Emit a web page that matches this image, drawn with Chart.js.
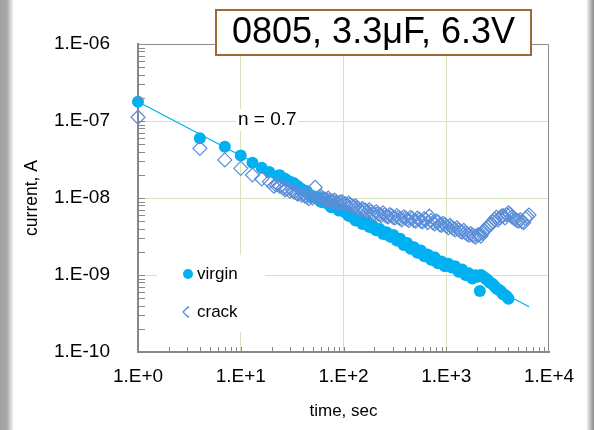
<!DOCTYPE html>
<html>
<head>
<meta charset="utf-8">
<title>0805, 3.3μF, 6.3V</title>
<script src="https://cdn.jsdelivr.net/npm/chart.js@4/dist/chart.umd.min.js"></script>
<style>
  html, body { margin: 0; padding: 0; }
  body {
    width: 594px; height: 430px; overflow: hidden;
    background: linear-gradient(to right, #9f9f9f 0px, #a8a8a8 7px, #ffffff 14px, #ffffff 586px, #e2e2e2 588px, #8a8a8a 594px);
  }
  #chart { position: absolute; left: 0; top: 0; }
</style>
</head>
<body>
<canvas id="chart" width="594" height="430"></canvas>
<script>
// axis ticks
const xTicks = [1, 10, 100, 1000, 10000];
const xTickLabels = ['1.E+0', '1.E+1', '1.E+2', '1.E+3', '1.E+4'];
const yTicks = [1e-10, 1e-9, 1e-8, 1e-7, 1e-6];
const yTickLabels = ['1.E-10', '1.E-09', '1.E-08', '1.E-07', '1.E-06'];

// virgin sample: time (s) and current (A)
const virginTime = [1, 4, 7, 10, 13, 16, 19, 23, 25, 27, 29, 31, 34, 36, 39, 42, 46,
  50, 54, 58, 63, 68, 73, 79, 86, 93, 100, 108, 117, 126, 136, 147, 159, 172, 186, 200,
  216, 234, 252, 272, 294, 318, 343, 370, 400, 432, 467, 504, 544, 588, 635, 686, 740,
  800, 864, 933, 1008, 1088, 1175, 1270, 1371, 1480, 1600, 1727, 1865, 2015, 2123, 2176,
  2350, 2538, 2741, 2960, 3197, 3453, 3730, 4030,
  24, 28, 33, 38, 44, 48, 56, 61, 70, 76, 83, 90, 104, 112, 122, 131, 141, 153, 165,
  179, 193, 208, 225, 243, 262, 283, 306, 330, 356, 385, 416, 450, 485, 524, 566, 611,
  660, 713, 770, 832, 898, 970, 1048, 1130, 1220, 1320, 1425, 1540, 1660, 1795, 1940,
  2260, 2440, 2640, 2850, 3080, 3320, 3590, 3880];
const virginCurrent = [1.78e-7, 5.96e-8, 4.64e-8, 3.56e-8, 2.87e-8, 2.47e-8, 2.18e-8,
  1.95e-8, 1.85e-8, 1.78e-8, 1.66e-8, 1.60e-8, 1.47e-8, 1.42e-8, 1.31e-8, 1.24e-8, 1.12e-8,
  1.06e-8, 9.9e-9, 9.5e-9, 9.0e-9, 8.6e-9, 8.1e-9, 7.8e-9, 7.4e-9, 7.1e-9, 6.7e-9,
  6.3e-9, 5.8e-9, 5.5e-9, 5.25e-9, 4.9e-9, 4.7e-9, 4.5e-9, 4.25e-9, 4.0e-9, 3.9e-9,
  3.65e-9, 3.5e-9, 3.35e-9, 3.2e-9, 3.0e-9, 2.85e-9, 2.65e-9, 2.5e-9, 2.4e-9, 2.25e-9,
  2.1e-9, 2.0e-9, 1.9e-9, 1.8e-9, 1.7e-9, 1.65e-9, 1.5e-9, 1.45e-9, 1.38e-9, 1.35e-9,
  1.32e-9, 1.26e-9, 1.2e-9, 1.15e-9, 1.08e-9, 1.02e-9, 9.7e-10, 9.4e-10, 9.5e-10, 6.2e-10,
  1.0e-9, 9.3e-10, 8.6e-10, 7.8e-10, 7.1e-10, 6.5e-10, 6.0e-10, 5.5e-10, 4.9e-10,
  1.98e-8, 1.66e-8, 1.55e-8, 1.28e-8, 1.22e-8, 1.04e-8, 1.02e-8, 8.9e-9, 8.9e-9, 7.6e-9,
  7.9e-9, 6.9e-9, 6.9e-9, 5.9e-9, 5.9e-9, 5.1e-9, 5.4e-9, 4.6e-9, 4.85e-9, 4.2e-9,
  4.35e-9, 3.8e-9, 3.95e-9, 3.4e-9, 3.6e-9, 3.15e-9, 3.3e-9, 2.8e-9, 2.95e-9, 2.45e-9,
  2.6e-9, 2.2e-9, 2.3e-9, 1.95e-9, 2.08e-9, 1.75e-9, 1.85e-9, 1.58e-9, 1.7e-9, 1.42e-9,
  1.5e-9, 1.3e-9, 1.4e-9, 1.25e-9, 1.3e-9, 1.1e-9, 1.18e-9, 1.0e-9, 1.05e-9, 9.0e-10,
  9.9e-10, 9.6e-10, 8.9e-10, 8.0e-10, 7.6e-10, 6.7e-10, 6.3e-10, 5.6e-10, 5.3e-10];

// cracked sample
const crackTime = [1, 4, 7, 10, 13, 16, 19, 22, 24, 26, 28, 30, 33, 36, 39, 42, 46, 50,
  53, 58, 63, 68, 73, 79, 85, 92, 100, 108, 116, 126, 136, 147, 158, 171, 185, 200, 216,
  233, 252, 272, 294, 317, 343, 370, 400, 432, 466, 504, 544, 587, 634, 685, 740, 799,
  863, 932, 1007, 1087, 1174, 1268, 1370, 1479, 1598, 1725, 1863, 2012, 2173, 2347, 2535,
  2738, 2957, 3193, 3449, 3725, 4023, 4345, 4692, 5068, 5473, 5911, 6384,
  21, 23, 27, 32, 35, 41, 44, 48, 55, 60, 66, 71, 76, 82, 88, 96, 104, 112, 121, 131,
  141, 152, 164, 178, 192, 208, 224, 242, 262, 283, 305, 330, 356, 385, 416, 449, 485,
  524, 565, 610, 659, 712, 770, 831, 897, 969, 1046, 1130, 1220, 1318, 1424, 1538, 1660,
  1793, 1936, 2090, 2260, 2440, 2635, 2845, 3070, 3320, 3585, 3870, 4180, 4510, 4870,
  5260, 5680, 6130];
const crackCurrent = [1.12e-7, 4.42e-8, 3.12e-8, 2.43e-8, 1.99e-8, 1.77e-8, 1.63e-8,
  1.48e-8, 1.41e-8, 1.35e-8, 1.31e-8, 1.23e-8, 1.19e-8, 1.12e-8, 1.09e-8, 1.06e-8, 9.8e-9,
  1.0e-8, 1.38e-8, 1.03e-8, 9.8e-9, 9.55e-9, 9.3e-9, 9.1e-9, 8.7e-9, 8.8e-9, 8.6e-9,
  8.1e-9, 8.2e-9, 7.7e-9, 7.5e-9, 6.9e-9, 7.0e-9, 6.6e-9, 6.7e-9, 6.2e-9, 6.3e-9,
  5.9e-9, 6.1e-9, 5.7e-9, 5.9e-9, 5.5e-9, 5.6e-9, 5.2e-9, 5.5e-9, 5.1e-9, 5.4e-9,
  5.0e-9, 5.3e-9, 4.9e-9, 5.2e-9, 5.8e-9, 4.8e-9, 5.0e-9, 4.5e-9, 4.7e-9, 4.3e-9,
  4.4e-9, 4.0e-9, 4.1e-9, 3.7e-9, 3.8e-9, 3.4e-9, 3.45e-9, 3.2e-9, 3.3e-9, 3.2e-9,
  3.8e-9, 4.2e-9, 4.6e-9, 5.3e-9, 5.2e-9, 5.8e-9, 5.5e-9, 6.4e-9, 5.7e-9, 5.3e-9,
  5.0e-9, 4.9e-9, 5.4e-9, 6.0e-9,
  1.42e-8, 1.52e-8, 1.27e-8, 1.25e-8, 1.15e-8, 1.12e-8, 1.03e-8, 1.05e-8, 9.9e-9, 1.06e-8,
  9.7e-9, 1.0e-8, 9.0e-9, 9.4e-9, 8.6e-9, 9.0e-9, 8.4e-9, 8.6e-9, 7.9e-9, 7.9e-9,
  7.2e-9, 7.3e-9, 6.9e-9, 7.0e-9, 6.3e-9, 6.6e-9, 6.1e-9, 6.4e-9, 5.8e-9, 6.1e-9,
  5.6e-9, 5.9e-9, 5.4e-9, 5.7e-9, 5.3e-9, 5.6e-9, 5.1e-9, 5.5e-9, 5.0e-9, 5.4e-9,
  4.8e-9, 5.1e-9, 4.6e-9, 4.9e-9, 4.4e-9, 4.5e-9, 4.1e-9, 4.2e-9, 3.85e-9, 3.9e-9,
  3.6e-9, 3.55e-9, 3.3e-9, 3.3e-9, 3.1e-9, 3.35e-9, 3.5e-9, 4.0e-9, 4.5e-9, 4.9e-9,
  5.6e-9, 5.5e-9, 5.9e-9, 6.1e-9, 6.2e-9, 5.5e-9, 5.1e-9, 5.2e-9, 4.8e-9, 5.7e-9];

// power law fit, n = 0.7 (end points)
const fitTime = [1, 6400];
const fitCurrent = [1.78e-7, 3.87e-10];

const FONT = "'Liberation Sans', Arial, sans-serif";
const gridColor = '#d6e3bc';
const axisColor = '#878787';
const virginColor = '#00b0f0';
const crackColor = '#5b8ed8';

function toPoints(xs, ys) {
  return xs.map((v, i) => ({ x: v, y: ys[i] }));
}

// grid colour only on inner decades
function innerGrid(ctx) {
  const n = ctx.scale.ticks.length;
  return (ctx.index === 0 || ctx.index === n - 1) ? 'rgba(0,0,0,0)' : gridColor;
}

// frame, minor ticks, labels, legend and the title box
const decorPlugin = {
  id: 'decor',
  afterDraw(chart) {
    const { ctx, chartArea: a, scales: { x, y } } = chart;
    ctx.save();

    // top and right frame
    ctx.strokeStyle = '#8c8c8c';
    ctx.lineWidth = 1;
    ctx.beginPath();
    ctx.moveTo(a.left, a.top + 0.5);
    ctx.lineTo(a.right - 0.5, a.top + 0.5);
    ctx.lineTo(a.right - 0.5, a.bottom);
    ctx.stroke();

    // minor ticks pointing inwards
    ctx.strokeStyle = axisColor;
    ctx.beginPath();
    for (let e = -10; e < -6; e++) {
      for (let k = 1; k < 10; k++) {
        const py = Math.round(y.getPixelForValue(k * Math.pow(10, e))) + 0.5;
        ctx.moveTo(a.left, py);
        ctx.lineTo(a.left + 7, py);
      }
    }
    for (let e = 0; e < 4; e++) {
      for (let k = 1; k < 10; k++) {
        const px = Math.round(x.getPixelForValue(k * Math.pow(10, e))) + 0.5;
        ctx.moveTo(px, a.bottom);
        ctx.lineTo(px, a.bottom - 5);
      }
    }
    ctx.stroke();

    // slope label
    ctx.fillStyle = '#ffffff';
    ctx.fillRect(236, 109, 62, 22);
    ctx.fillStyle = '#000000';
    ctx.font = '19px ' + FONT;
    ctx.textAlign = 'left';
    ctx.textBaseline = 'middle';
    ctx.fillText('n = 0.7', 238, 120);

    // legend
    ctx.fillStyle = '#ffffff';
    ctx.fillRect(157, 255, 108, 77);
    ctx.fillStyle = virginColor;
    ctx.beginPath();
    ctx.arc(188, 274, 5, 0, Math.PI * 2);
    ctx.fill();
    ctx.save();
    ctx.beginPath();
    ctx.rect(180, 302, 9, 20);
    ctx.clip();
    ctx.strokeStyle = crackColor;
    ctx.lineWidth = 1.3;
    ctx.beginPath();
    ctx.moveTo(183, 312);
    ctx.lineTo(188, 307);
    ctx.lineTo(193, 312);
    ctx.lineTo(188, 317);
    ctx.closePath();
    ctx.stroke();
    ctx.restore();
    ctx.fillStyle = '#000000';
    ctx.font = '17px ' + FONT;
    ctx.fillText('virgin', 197, 274);
    ctx.fillText('crack', 197, 312);

    // title box
    ctx.fillStyle = '#ffffff';
    ctx.fillRect(216, 10, 315, 45);
    ctx.strokeStyle = '#9c6a38';
    ctx.lineWidth = 2;
    ctx.strokeRect(216, 10, 315, 45);
    ctx.fillStyle = '#000000';
    ctx.font = '36px ' + FONT;
    ctx.textAlign = 'center';
    ctx.fillText('0805, 3.3μF, 6.3V', 373.5, 33);

    ctx.restore();
  }
};

const ctx = document.getElementById('chart').getContext('2d');
const chart = new Chart(ctx, {
  type: 'scatter',
  data: {
    datasets: [{
      label: 'crack',
      data: toPoints(crackTime, crackCurrent),
      pointStyle: 'rectRot',
      pointRadius: 7,
      backgroundColor: 'rgba(0,0,0,0)',
      borderColor: crackColor,
      borderWidth: 1.2,
      clip: false,
      order: 0
    }, {
      label: 'virgin',
      data: toPoints(virginTime, virginCurrent),
      pointStyle: 'circle',
      pointRadius: 6,
      backgroundColor: virginColor,
      borderWidth: 0,
      clip: false,
      order: 1
    }, {
      label: 'fit',
      data: toPoints(fitTime, fitCurrent),
      showLine: true,
      pointRadius: 0,
      borderColor: virginColor,
      borderWidth: 1.2,
      clip: false,
      order: 2
    }]
  },
  options: {
    responsive: false,
    animation: false,
    devicePixelRatio: 1,
    layout: { padding: { left: 0, top: 44, right: 45, bottom: 0 } },
    plugins: {
      legend: { display: false },
      tooltip: { enabled: false }
    },
    scales: {
      x: {
        type: 'logarithmic',
        min: 1,
        max: 10000,
        afterBuildTicks: (scale) => { scale.ticks = xTicks.map(v => ({ value: v })); },
        afterFit: (scale) => { scale.height = 78; },
        grid: { color: innerGrid, lineWidth: 1, drawTicks: false },
        border: { color: axisColor, width: 2 },
        ticks: {
          autoSkip: false,
          maxRotation: 0,
          padding: 13,
          color: '#000000',
          font: { family: FONT, size: 19 },
          callback: (value, index) => xTickLabels[index]
        },
        title: {
          display: true,
          text: 'time, sec',
          color: '#000000',
          font: { family: FONT, size: 17 },
          padding: { top: 0, bottom: 8 }
        }
      },
      y: {
        type: 'logarithmic',
        min: 1e-10,
        max: 1e-6,
        afterBuildTicks: (scale) => { scale.ticks = yTicks.map(v => ({ value: v })); },
        afterFit: (scale) => { scale.width = 138; },
        grid: { color: innerGrid, lineWidth: 1, drawTicks: false },
        border: { color: axisColor, width: 2 },
        ticks: {
          autoSkip: false,
          padding: 28,
          color: '#000000',
          font: { family: FONT, size: 19 },
          callback: (value, index) => yTickLabels[index]
        },
        title: {
          display: true,
          text: 'current, A',
          color: '#000000',
          font: { family: FONT, size: 17.5 },
          padding: { top: 22, bottom: 0 }
        }
      }
    }
  },
  plugins: [decorPlugin]
});
</script>
</body>
</html>
